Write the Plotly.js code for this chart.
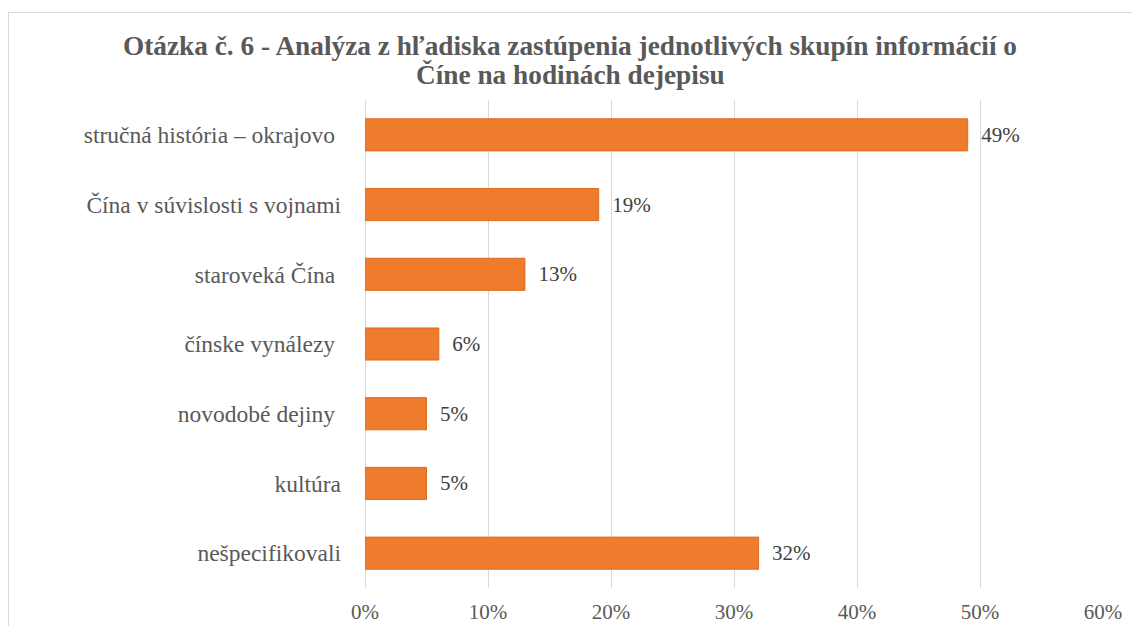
<!DOCTYPE html>
<html>
<head>
<meta charset="utf-8">
<script src="https://cdn.plot.ly/plotly-3.0.1.min.js"></script>
<style>
html,body{margin:0;padding:0;overflow:hidden;background:#fff;}
#chart{width:1132px;height:626px;}
#frame{position:absolute;left:8px;top:12px;width:1300px;height:800px;border:1px solid #d9d9d9;pointer-events:none;}
</style>
</head>
<body>
<div id="chart"></div>
<div id="frame"></div>
<script>
const categories = [
  "stručná história – okrajovo ",
  "Čína v súvislosti s vojnami",
  "staroveká Čína ",
  "čínske vynálezy ",
  "novodobé dejiny ",
  "kultúra",
  "nešpecifikovali"
];
const values = [0.49, 0.19, 0.13, 0.06, 0.05, 0.05, 0.32];
const valueLabels = ["49%", "19%", "13%", "6%", "5%", "5%", "32%"];
const xTickVals = [0, 0.1, 0.2, 0.3, 0.4, 0.5, 0.6];
const xTickText = ["0%", "10%", "20%", "30%", "40%", "50%", "60%"];
const titleLines = [
  "Otázka č. 6 - Analýza z hľadiska zastúpenia jednotlivých skupín informácií o",
  "Číne na hodinách dejepisu"
];

const font = "'Liberation Serif', 'Times New Roman', serif";

const trace = {
  type: "bar",
  orientation: "h",
  y: categories,
  x: values,
  text: valueLabels,
  texttemplate: "  %{text}",
  textposition: "outside",
  cliponaxis: false,
  textfont: {family: font, size: 21, color: "#404040"},
  marker: {color: "#EF7B2D", line: {color: "#E06A1A", width: 1}},
  hoverinfo: "none"
};

const titleY = [46, 75];
const annotations = titleLines.map((t, i) => ({
  text: "<b>" + t + "</b>",
  xref: "paper", yref: "paper",
  x: (570 - 365) / (1103 - 365),
  y: 1 + (100 - titleY[i]) / (588 - 100),
  xanchor: "center", yanchor: "middle",
  showarrow: false,
  font: {family: font, size: 27.3, color: "#595959"}
}));

const layout = {
  width: 1132,
  height: 626,
  font: {family: font},
  margin: {l: 365, r: 29, t: 100, b: 38},
  paper_bgcolor: "#ffffff",
  plot_bgcolor: "#ffffff",
  showlegend: false,
  bargap: 0.54,
  annotations: annotations,
  xaxis: {
    range: [0, 0.6],
    tickvals: xTickVals,
    ticktext: xTickText,
    showgrid: true,
    gridcolor: "#d9d9d9",
    gridwidth: 1,
    zeroline: true,
    zerolinecolor: "#d9d9d9",
    zerolinewidth: 1,
    showline: false,
    ticks: "",
    ticklabelstandoff: 9,
    tickfont: {family: font, size: 21, color: "#595959"},
    fixedrange: true
  },
  yaxis: {
    autorange: "reversed",
    type: "category",
    showgrid: false,
    zeroline: false,
    showline: false,
    ticks: "",
    ticklabelstandoff: 23,
    tickfont: {family: font, size: 23.5, color: "#595959"},
    fixedrange: true
  }
};

Plotly.newPlot("chart", [trace], layout, {displayModeBar: false, staticPlot: true});
</script>
</body>
</html>
